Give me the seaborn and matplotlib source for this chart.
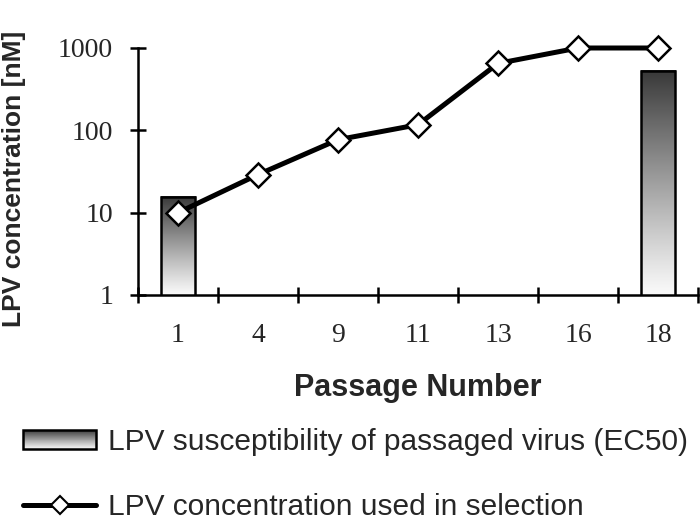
import numpy as np
import pandas as pd
import seaborn as sns
import matplotlib
matplotlib.use("Agg")
import matplotlib.pyplot as plt
from matplotlib.patches import Rectangle
from matplotlib.lines import Line2D
from matplotlib.legend_handler import HandlerBase
from matplotlib.ticker import FixedLocator, NullLocator, FuncFormatter

sns.set_style("white")
plt.rcParams["font.family"] = ["Liberation Sans", "DejaVu Sans"]

# data
passages = ["1", "4", "9", "11", "13", "16", "18"]
selection_conc = [10, 29, 77, 117, 650, 1000, 1000]
ec50_passages = ["1", "18"]
ec50_values = [15.5, 530]

sel_df = pd.DataFrame({"passage": passages, "conc": selection_conc})
ec_df = pd.DataFrame({"passage": ec50_passages, "ec50": ec50_values})

label_bar = "LPV susceptibility of passaged virus (EC50)"
label_line = "LPV concentration used in selection"


def gray_at(f):
    # f = 0 bottom (white) .. 1 top (dark)
    v = 0.98 - 0.76 * f ** 1.1
    return (v, v, v)


fig = plt.figure(figsize=(7, 5.26), dpi=100)
ax = fig.add_axes([138 / 700, 1 - 295 / 526, 560 / 700, 247 / 526])
ax.set_yscale("log")

sns.barplot(data=ec_df, x="passage", y="ec50", order=passages, width=0.43,
            facecolor="none", edgecolor="black", linewidth=1.8, ax=ax, zorder=3)
sns.pointplot(data=sel_df, x="passage", y="conc", order=passages, color="black",
              markers="D", markersize=12, markerfacecolor="white",
              markeredgecolor="black", markeredgewidth=1.8, linewidth=3.6,
              errorbar=None, ax=ax)
for ln in ax.lines:
    ln.set_clip_on(False)
    ln.set_zorder(5)

ax.set_xlim(-0.5, 6.5)
ax.set_ylim(1, 1000)

# gradient fill inside each bar
grad = np.linspace(0, 1, 256)
img = np.repeat(np.array([gray_at(f) for f in grad])[:, None, :], 2, axis=1)
to_axes = ax.transData + ax.transAxes.inverted()
for p in list(ax.patches):
    x0, x1 = p.get_x(), p.get_x() + p.get_width()
    top = p.get_y() + p.get_height()
    (ax0, ay0) = to_axes.transform((x0, 1))
    (ax1, ay1) = to_axes.transform((x1, top))
    ax.imshow(img, extent=[ax0, ax1, ay0, ay1], origin="lower", aspect="auto",
              transform=ax.transAxes, zorder=2, interpolation="bilinear")
ax.set_xlim(-0.5, 6.5)
ax.set_ylim(1, 1000)

# axes styling
for s in ["top", "right"]:
    ax.spines[s].set_visible(False)
for s in ["left", "bottom"]:
    ax.spines[s].set_linewidth(1.8)
    ax.spines[s].set_color("black")

ax.yaxis.set_major_locator(FixedLocator([1, 10, 100, 1000]))
ax.yaxis.set_minor_locator(NullLocator())
ax.yaxis.set_major_formatter(FuncFormatter(lambda v, _: f"{v:g}"))
ax.tick_params(axis="y", which="major", left=True, direction="inout", length=12,
               width=1.8, pad=12, labelsize=20, color="black")
ax.xaxis.set_minor_locator(FixedLocator(np.arange(-0.5, 7, 1)))
ax.tick_params(axis="x", which="major", bottom=True, length=0, pad=20,
               labelsize=20)
ax.tick_params(axis="x", which="minor", bottom=True, direction="inout",
               length=12, width=1.8, color="black")
for t in ax.get_xticklabels() + ax.get_yticklabels():
    t.set_family(["Liberation Serif", "DejaVu Serif"])

ax.set_xlabel("Passage Number", fontsize=22, fontweight="bold")
ax.set_ylabel("LPV concentration [nM]", fontsize=19, fontweight="bold")
ax.xaxis.set_label_coords(0.5, -0.315)
ax.yaxis.set_label_coords(-0.2, 0.47)


class GradientHandler(HandlerBase):
    def create_artists(self, legend, orig_handle, xdescent, ydescent, width,
                       height, fontsize, trans):
        arts = []
        n = 40
        for i in range(n):
            r = Rectangle((-xdescent, -ydescent + height * i / n), width,
                          height / n * 1.05, facecolor=gray_at((i + 0.5) / n),
                          edgecolor="none", transform=trans)
            arts.append(r)
        arts.append(Rectangle((-xdescent, -ydescent), width, height,
                              facecolor="none", edgecolor="black", lw=1.8,
                              transform=trans))
        return arts


bar_handle = Rectangle((0, 0), 1, 1)
line_handle = Line2D([], [], color="black", lw=3.6, marker="D", markersize=9,
                     markerfacecolor="white", markeredgecolor="black",
                     markeredgewidth=1.5)
fig.legend([bar_handle, line_handle], [label_bar, label_line],
           handler_map={Rectangle: GradientHandler()},
           loc="upper left", bbox_to_anchor=(23 / 700, 1 - 428 / 526),
           frameon=False, fontsize=21.5, handlelength=2.45, handleheight=0.64,
           handletextpad=0.4, labelspacing=1.25, borderpad=0, borderaxespad=0,
           numpoints=1)

fig.savefig("out.png", dpi=100)
